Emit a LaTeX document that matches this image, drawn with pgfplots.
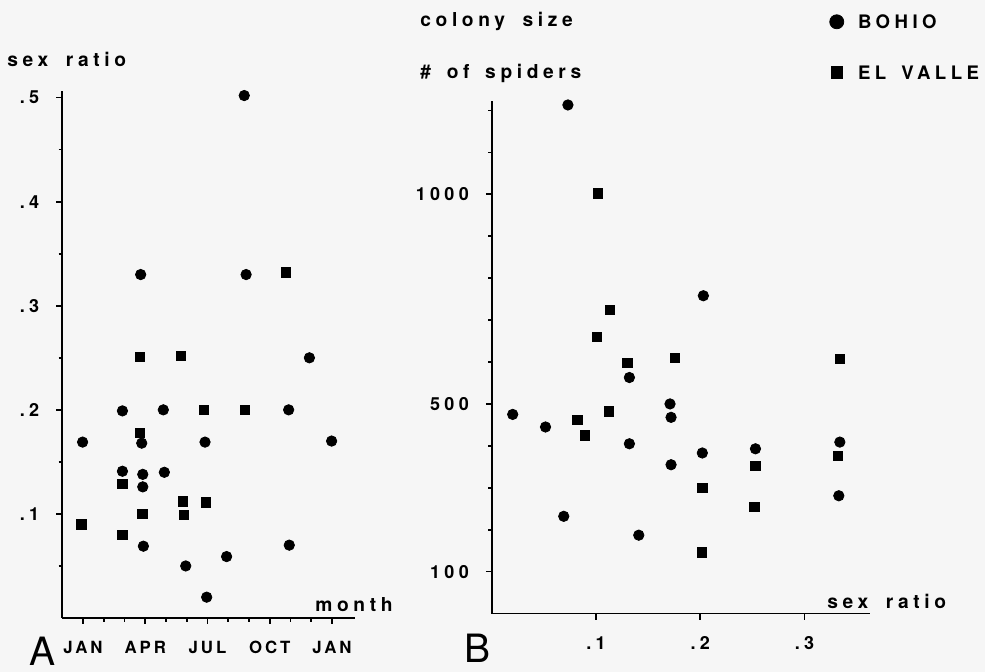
\documentclass[border=0pt]{standalone}
\usepackage{pgfplots}
\pgfplotsset{compat=1.18}
\usepackage{pgfplotstable}
\usepackage{fontspec}
\setmainfont{TeX Gyre Heros}
\newfontfamily\lsfont{TeX Gyre Heros}[LetterSpace=24]
\newfontfamily\lsfontB{TeX Gyre Heros}[LetterSpace=18]
\newfontfamily\lsfontN{TeX Gyre Heros}[LetterSpace=24]
\definecolor{bg}{RGB}{246,246,246}

% Panel A: month (1 = JAN) vs sex ratio
\pgfplotstableread{
x y
0.98 0.169
2.90 0.199
2.90 0.141
3.83 0.168
3.88 0.138
3.88 0.126
3.91 0.069
4.87 0.200
4.92 0.140
5.95 0.050
6.88 0.169
6.96 0.020
7.92 0.059
10.91 0.200
10.94 0.070
11.91 0.250
12.98 0.170
3.78 0.330
8.77 0.502
8.86 0.330
}\Acirc
\pgfplotstableread{
x y
0.92 0.090
2.90 0.129
2.90 0.080
3.75 0.251
3.76 0.178
3.86 0.100
5.72 0.252
5.82 0.112
5.85 0.099
6.83 0.200
6.91 0.111
8.82 0.200
10.78 0.332
}\Asq
% Panel B: sex ratio vs colony size
\pgfplotstableread{
x y
0.073 1213
0.203 758
0.132 563
0.171 500
0.020 475
0.172 468
0.0515 445
0.132 405
0.334 409
0.253 393
0.202 383
0.172 355
0.333 281
0.069 232
0.141 187
}\Bcirc
\pgfplotstableread{
x y
0.102 1002
0.113 724
0.101 660
0.130 598
0.176 610
0.334 607
0.112 482
0.082 461
0.0895 425
0.332 377
0.253 353
0.202 299
0.252 254
0.2015 146
}\Bsq

\pgfplotsset{
  myax/.style={
    scale only axis, anchor=south west,
    axis x line=bottom, axis y line=left,
    axis line style={-, line width=0.9pt},
    tick align=outside,
    major tick length=3pt, minor tick length=1.8pt,
    every tick/.style={black, line width=0.8pt},
    ticklabel style={font=\lsfontN\bfseries\fontsize{9}{9}\selectfont},
    xticklabel style={yshift=-5pt},
    yticklabel style={xshift=-5pt},
    clip=false,
  },
  circ/.style={only marks, mark=*, mark size=2.6pt, black},
  sq/.style={only marks, mark=square*, mark size=2.3pt, black},
}

\begin{document}
\begin{tikzpicture}
\fill[bg] (0,0) rectangle (492.5pt,336pt);
\path[use as bounding box] (0,0) rectangle (492.5pt,336pt);

\begin{axis}[myax,
  at={(31.125pt,27pt)},
  width=146.3pt, height=263.3pt,
  xmin=0, xmax=14.1, ymin=0, ymax=0.506,
  xtick={1,4,7,10,13}, xticklabels={JAN,APR,JUL,OCT,JAN},
  xticklabel style={font=\lsfontB\bfseries\fontsize{8.4}{9}\selectfont},
  minor xtick={2,3,5,6,8,9,11,12},
  ytick={0.1,0.2,0.3,0.4,0.5}, yticklabels={.1,.2,.3,.4,.5},
  minor ytick={0.05,0.15,0.25,0.35,0.45},
]
\addplot[circ] table[x=x,y=y] {\Acirc};
\addplot[sq] table[x=x,y=y] {\Asq};
\end{axis}

\begin{axis}[myax,
  at={(245.93pt,29.2pt)},
  width=189.1pt, height=256.2pt,
  xmin=0, xmax=0.363, ymin=0, ymax=1222,
  xtick={0.1,0.2,0.3}, xticklabels={.1,.2,.3},
  ytick={100,500,1000}, yticklabels={100,500,1000},
  minor ytick={200,300,400,600,700,800,900,1100,1200},
  legend image code/.code={\draw[#1] plot coordinates {(0pt,3.35pt)};},
  legend style={at={(axis description cs:0.8934,1.1688)}, anchor=north west,
    draw=none, fill=none, inner sep=0pt, outer sep=0pt,
    nodes={inner sep=0pt, anchor=base west},
    column sep=7.15pt, row sep=17.0pt,
    font=\lsfont\bfseries\fontsize{9.3}{10}\selectfont},
  legend cell align=left,
]
\addlegendimage{only marks, mark=*, mark size=3.5pt, black}
\addlegendentry{BOHIO}
\addlegendimage{only marks, mark=square*, mark size=2.9pt, black}
\addlegendentry{EL \hspace{0.3em}VALLE}
\addplot[circ, forget plot] table[x=x,y=y] {\Bcirc};
\addplot[sq, forget plot] table[x=x,y=y] {\Bsq};
\end{axis}

\begin{scope}[every node/.style={inner sep=0pt, anchor=base west, font=\lsfont\bfseries\fontsize{9.6}{10}\selectfont}]
\node at (3.5pt,302.65pt) {sex \hspace{0.4em}ratio};
\node at (157.5pt,30.15pt) {month};
\node at (210pt,322.65pt) {colony \hspace{0.4em}size};
\node at (210pt,296.5pt) {\# \hspace{0.3em}of \hspace{0.3em}spiders};
\node at (413.5pt,31.85pt) {sex \hspace{0.4em}ratio};
\node[font=\fontsize{19.5}{19.5}\selectfont] at (14.5pt,3pt) {A};
\node[anchor=base east, font=\fontsize{19.5}{19.5}\selectfont] at (245.5pt,4.5pt) {B};
\end{scope}
\end{tikzpicture}
\end{document}
